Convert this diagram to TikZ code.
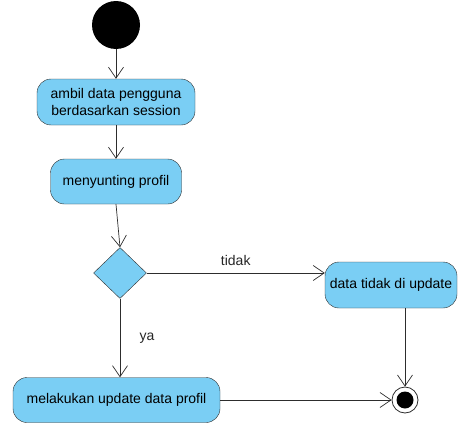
\documentclass[tikz,border=0pt]{standalone}
\usepackage{fontspec}
\setmainfont{Liberation Sans}
\usepackage{tikz}
\usetikzlibrary{arrows.meta, shapes, positioning}

\definecolor{actfill}{RGB}{122,206,244}
\definecolor{actline}{RGB}{45,45,45}

\begin{document}
\begin{tikzpicture}[x=1pt, y=-1pt,
		act/.style={draw=actline, fill=actfill, rounded corners=14pt, align=center, inner xsep=3pt, font=\fontsize{14}{17}\selectfont},
		choice/.style={draw=actline, fill=actfill, diamond, inner sep=0pt, minimum width=53pt, minimum height=51pt},
		flow/.style={draw=actline, line width=0.7pt, -{Straight Barb[length=11pt, width=15pt, line width=0.7pt]}},
		lbl/.style={font=\fontsize{14}{17}\selectfont, text=black!85}]
		\useasboundingbox (0,0) rectangle (458,423);
		
		% Start
		\node[circle, fill=black, minimum size=48pt, inner sep=0pt] (start) at (116,25) {};
		
		% Activities
		\node[act, minimum width=158pt, minimum height=46pt] (ambil) at (116,102) {ambil data pengguna\\berdasarkan session};
		\node[act, minimum width=131pt, minimum height=45pt] (sunting) at (116,181.5) {menyunting profil};
		\node[choice] (cek) at (120,273) {};
		\node[act, minimum width=132pt, minimum height=46pt] (batal) at (391,285) {data tidak di update};
		\node[act, minimum width=207pt, minimum height=45pt] (simpan) at (116.5,400) {melakukan update data profil};
		
		% End
		\node[circle, draw=actline, line width=0.8pt, fill=white, minimum size=26pt, inner sep=0pt] (akhir) at (405,400) {};
		\fill[black] (akhir.center) circle (8.5pt);
		
		% Flows
		\draw[flow] (start) -- (ambil);
		\draw[flow] (ambil) -- (sunting);
		\draw[flow] (sunting.south) -- (cek.north);
		\draw[flow] (cek.east) -- (cek.east -| batal.west) node[lbl, midway, above=4pt] {tidak};
		\draw[flow] (cek.south) -- (simpan.north -| cek.south) node[lbl, midway, right=16pt] {ya};
		\draw[flow] (akhir |- batal.south) -- (akhir.north);
		\draw[flow] (simpan.east) -- (akhir.west);
	\end{tikzpicture}
\end{document}
